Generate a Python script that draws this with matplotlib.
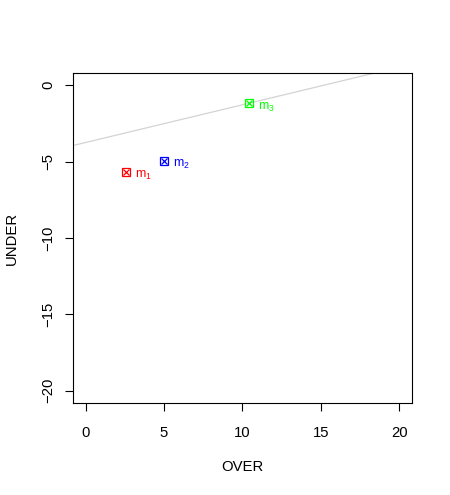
import matplotlib
matplotlib.use('Agg')
import matplotlib.pyplot as plt
import numpy as np

plt.rcParams['font.family'] = ['Liberation Sans', 'DejaVu Sans']
plt.rcParams['mathtext.fontset'] = 'custom'
plt.rcParams['mathtext.rm'] = 'Liberation Sans'
plt.rcParams['mathtext.it'] = 'Liberation Sans'

# data
over = [2.55, 4.98, 10.4]
under = [-5.66, -4.93, -1.18]
labels = ['m$_1$', 'm$_2$', 'm$_3$']
colors = ['#FF0000', '#0000FF', '#00FF00']
intercept = -3.75
slope = 0.247

fig = plt.figure(figsize=(4.5, 4.95), dpi=100)
ax = fig.add_axes([73/450, 1-403/495, (412-73)/450, (403-73)/495])

xs = np.array([-5, 25])
ax.plot(xs, intercept + slope*xs, color='#D3D3D3', lw=0.9, zorder=1)

for x, y, lab, c in zip(over, under, labels, colors):
    ax.plot(x, y, marker='s', ms=5.5, mfc='none', mec=c, mew=0.9, zorder=3)
    ax.plot(x, y, marker='x', ms=4.2, color=c, mew=0.9, zorder=3)
    ax.annotate(lab, (x, y), xytext=(6.5, -3), textcoords='offset points',
                color=c, fontsize=8.8, va='center', ha='left')

ax.set_xlim(-0.8, 20.8)
ax.set_ylim(-20.8, 0.8)
ax.set_xticks([0, 5, 10, 15, 20])
ax.set_yticks([0, -5, -10, -15, -20])
ax.tick_params(direction='out', length=5.8, width=0.8, labelsize=10.7)
ax.tick_params(axis='x', pad=10.5)
ax.tick_params(axis='y', pad=7)
for lab in ax.get_yticklabels():
    lab.set_rotation(90)
    lab.set_va('center')
ax.set_xlabel('OVER', fontsize=10.7, labelpad=15)
ax.set_ylabel('UNDER', fontsize=10.7, labelpad=16)
for s in ax.spines.values():
    s.set_linewidth(0.8)

fig.savefig('out.png', dpi=100)
